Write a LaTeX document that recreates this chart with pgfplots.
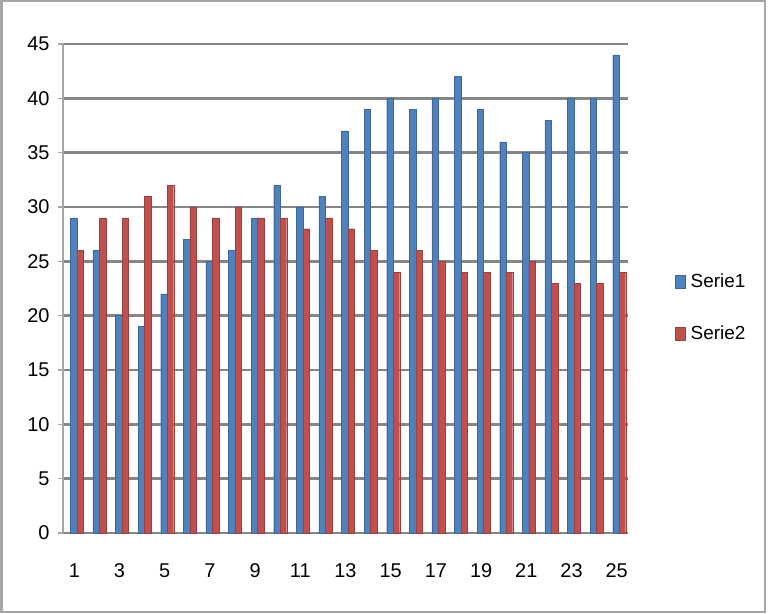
\documentclass[border=0pt]{standalone}
\usepackage{pgfplots}
\pgfplotsset{compat=1.18}
\usepackage{fontspec}
\setmainfont{Liberation Sans}
\definecolor{sblue}{HTML}{4F81BD}
\definecolor{sred}{HTML}{C0504D}
\definecolor{gridg}{HTML}{868686}
\definecolor{axg}{HTML}{A6A6A6}
\begin{document}
\begin{tikzpicture}
\useasboundingbox (0,0) rectangle (768bp,614bp);
\draw[axg, line width=2bp] (1.5bp,2bp) rectangle (765bp,613bp);
\begin{axis}[
  at={(63bp,81bp)}, anchor=origin,
  scale only axis, width=565bp, height=489bp,
  xmin=0.5, xmax=25.5, ymin=0, ymax=45,
  ybar=0pt, bar width=6.5bp,
  axis x line=bottom, axis y line=left,
  axis line style={axg, line width=1.5bp, -},
  x axis line style={gridg, line width=2.2bp},
  ytick={0,5,...,45},
  ymajorgrids, grid style={gridg, line width=2.4bp},
  xtick={1,3,...,25},
  minor xtick={0.5,1.5,...,25.5},
  xtick style={draw=none},
  minor x tick style={axg, line width=1.2bp},
  minor tick length=8bp,
  ytick style={axg, line width=1.5bp},
  major tick length=5bp,
  tick align=outside,
  /pgf/number format/assume math mode=true,
  tick label style={font=\fontsize{20}{22}\selectfont, text=black},
  xticklabel style={yshift=-22bp},
  yticklabel style={xshift=-5bp},
  legend style={at={(1,0.5)}, anchor=west, xshift=44bp, yshift=-19bp,
    draw=none, fill=none, font=\fontsize{19}{21}\selectfont,
    row sep=33bp, /tikz/every even column/.append style={column sep=0bp}},
  legend image code/.code={\fill[#1] (0bp,-6.5bp) rectangle (10bp,6.5bp);},
  legend cell align=left,
  clip=false,
]
\addplot[fill=sblue, draw=sblue!80!black, line width=0.4bp, bar shift=-0.75bp] coordinates {
(1,29) (2,26) (3,20) (4,19) (5,22) (6,27) (7,25) (8,26) (9,29) (10,32)
(11,30) (12,31) (13,37) (14,39) (15,40) (16,39) (17,40) (18,42) (19,39) (20,36)
(21,35) (22,38) (23,40) (24,40) (25,44)};
\addplot[fill=sred, draw=sred!80!black, line width=0.4bp, bar shift=5.75bp] coordinates {
(1,26) (2,29) (3,29) (4,31) (5,32) (6,30) (7,29) (8,30) (9,29) (10,29)
(11,28) (12,29) (13,28) (14,26) (15,24) (16,26) (17,25) (18,24) (19,24) (20,24)
(21,25) (22,23) (23,23) (24,23) (25,24)};
\legend{\,Serie1, \,Serie2}
\end{axis}
\end{tikzpicture}
\end{document}
